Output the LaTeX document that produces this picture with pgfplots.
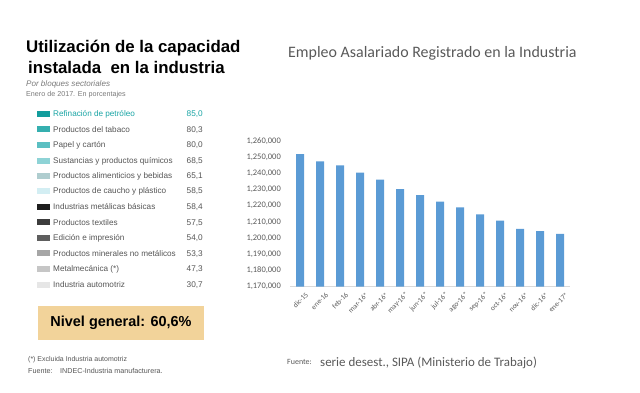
\documentclass[border=0pt]{standalone}
\usepackage{pgfplots}
\pgfplotsset{compat=1.18}
\usepackage{fontspec}
\setmainfont{Liberation Sans}
\newfontfamily\carlito{Carlito}
\newcommand{\fs}[1]{\fontsize{#1}{#1}\selectfont}
\definecolor{barblue}{HTML}{5B9BD5}
\definecolor{axisgray}{HTML}{D9D9D9}
\definecolor{labgray}{HTML}{595959}
\definecolor{txtgray}{HTML}{555555}
\definecolor{subgray}{HTML}{7A7A7A}
\definecolor{tealtxt}{HTML}{1AA5A5}
\definecolor{c1}{HTML}{139D9D}
\definecolor{c2}{HTML}{35AFAF}
\definecolor{c3}{HTML}{5BBFC2}
\definecolor{c4}{HTML}{8ED3D6}
\definecolor{c5}{HTML}{AFCDCF}
\definecolor{c6}{HTML}{D3EEF3}
\definecolor{c7}{HTML}{1E1E1E}
\definecolor{c8}{HTML}{3C3C3C}
\definecolor{c9}{HTML}{5E5E5E}
\definecolor{c10}{HTML}{A6A6A6}
\definecolor{c11}{HTML}{C6C6C6}
\definecolor{c12}{HTML}{E6E6E6}
\definecolor{boxtan}{HTML}{F2D39A}
\begin{document}
\begin{tikzpicture}
\begin{axis}[
  at={(290bp,-286.7bp)}, anchor=south west,
  scale only axis, width=280bp, height=146bp,
  xmin=-0.5, xmax=13.5, ymin=1170000, ymax=1260000,
  ybar, bar width=8bp,
  xtick={0,1,2,3,4,5,6,7,8,9,10,11,12,13},
  xticklabels={dic-15,ene-16,feb-16,mar-16*,abr-16*,may-16*,jun-16*,jul-16*,ago-16*,sep-16*,oct-16*,nov-16*,dic-16*,ene-17*},
  ytick={1170000,1180000,1190000,1200000,1210000,1220000,1230000,1240000,1250000,1260000},
  scaled y ticks=false,
  separate axis lines,
  axis x line*=bottom, axis y line*=left,
  x axis line style={draw=axisgray, line width=0.75bp, -},
  y axis line style={draw=none},
  major tick length=0pt,
  tick style={draw=none},
  yticklabel style={font=\carlito\fs{8.5}, text=labgray, inner sep=0pt, xshift=-9bp},
  xticklabel style={font=\carlito\fs{7.3}, text=labgray, rotate=45, anchor=east, inner sep=0pt, yshift=-10bp},
  /pgf/number format/.cd, fixed, 1000 sep={,}, assume math mode=true,
]
\addplot[fill=barblue, draw=none] coordinates {
(0,1251800) (1,1247300) (2,1244800) (3,1240300) (4,1236000) (5,1230200) (6,1226500)
(7,1222400) (8,1218900) (9,1214600) (10,1210700) (11,1205600) (12,1204300) (13,1202500)};
\end{axis}
\begin{scope}[x=1bp,y=-1bp]
\path[use as bounding box] (0,0) rectangle (640,392);
% left titles
\node[anchor=base west, inner sep=0] at (26,52) {\fs{16.9}\bfseries Utilización de la capacidad};
\node[anchor=base west, inner sep=0] at (28,73.5) {\fs{16.9}\bfseries instalada\ \ en la industria};
\node[anchor=base west, inner sep=0, text=subgray] at (26,86) {\fs{8.1}\itshape Por bloques sectoriales};
\node[anchor=base west, inner sep=0, text=subgray] at (26,96.5) {\fs{7.2}Enero de 2017. En porcentajes};
% table rows
\foreach \y/\c/\lab/\v in {
 114/c1/{Refinación de petróleo}/{85,0},
 129.3/c2/{Productos del tabaco}/{80,3},
 145/c3/{Papel y cartón}/{80,0},
 160.7/c4/{Sustancias y productos químicos}/{68,5},
 176/c5/{Productos alimenticios y bebidas}/{65,1},
 190.7/c6/{Productos de caucho y plástico}/{58,5},
 206.7/c7/{Industrias metálicas básicas}/{58,4},
 222.3/c8/{Productos textiles}/{57,5},
 237.7/c9/{Edición e impresión}/{54,0},
 253.3/c10/{Productos minerales no metálicos}/{53,3},
 269/c11/{Metalmecánica (*)}/{47,3},
 284.7/c12/{Industria automotriz}/{30,7}}{
  \fill[\c] (37,\y-3) rectangle (50,\y+3);
  \node[anchor=base west, inner sep=0, text=txtgray] at (53,\y+2.9) {\fs{8.2}\lab};
  \node[anchor=base east, inner sep=0, text=txtgray] at (203,\y+2.9) {\fs{8.3}\v};
}
% highlight first row in teal
\fill[white] (52,108) rectangle (204,120);
\node[anchor=base west, inner sep=0, text=tealtxt] at (53,116.9) {\fs{8.2}Refinación de petróleo};
\node[anchor=base east, inner sep=0, text=tealtxt] at (203,116.9) {\fs{8.3}85,0};
% nivel general box
\fill[boxtan] (38,306) rectangle (204,340);
\node[inner sep=0] at (121,323) {\fs{14.5}\bfseries Nivel general: 60,6\%};
\node[anchor=base west, inner sep=0, text=txtgray] at (28,361.5) {\fs{7}(*) Excluida Industria automotriz};
\node[anchor=base west, inner sep=0, text=txtgray] at (28,373.5) {\fs{7.2}Fuente:};
\node[anchor=base west, inner sep=0, text=txtgray] at (60,373.5) {\fs{7.2}INDEC-Industria manufacturera.};
% right title and source
\node[anchor=base west, inner sep=0, text=labgray] at (288,57) {\carlito\fs{16}Empleo Asalariado Registrado en la Industria};
\node[anchor=base west, inner sep=0, text=labgray] at (287,364.5) {\carlito\fs{8}Fuente:};
\node[anchor=base west, inner sep=0, text=labgray] at (320,366) {\carlito\fs{13}serie desest., SIPA (Ministerio de Trabajo)};
\end{scope}
\end{tikzpicture}
\end{document}
